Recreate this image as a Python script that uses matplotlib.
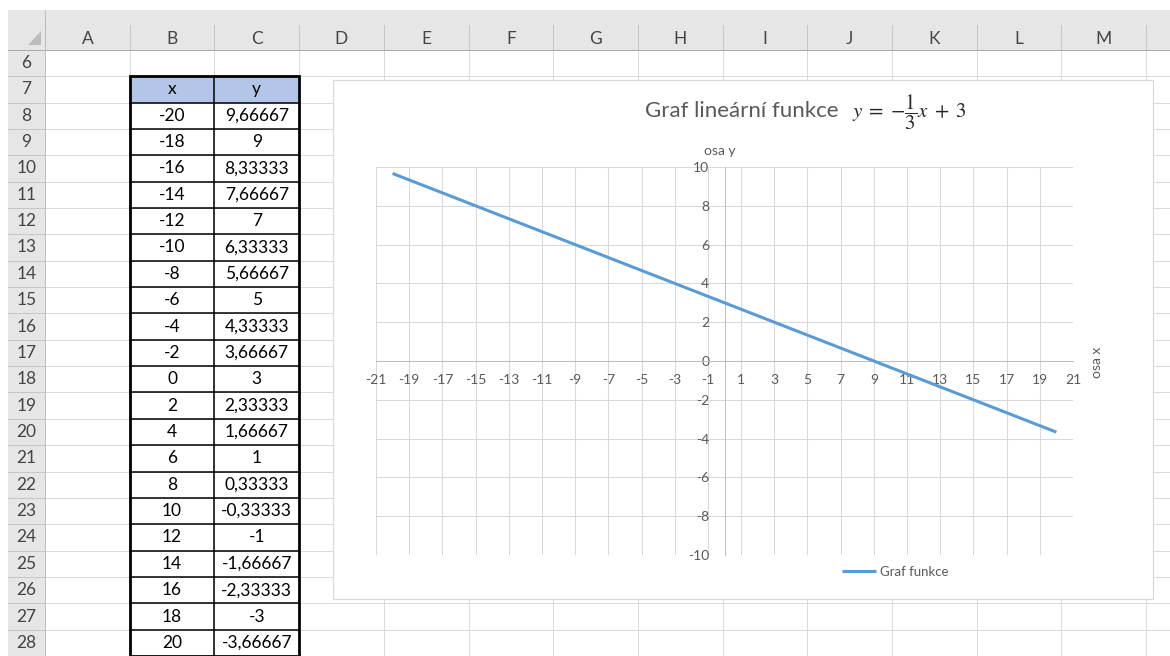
import matplotlib
matplotlib.use("Agg")
import matplotlib.pyplot as plt
from matplotlib.patches import Rectangle, Polygon

# ---- data -------------------------------------------------------------
x_values = [-20, -18, -16, -14, -12, -10, -8, -6, -4, -2, 0,
            2, 4, 6, 8, 10, 12, 14, 16, 18, 20]
y_values = [9.66667, 9, 8.33333, 7.66667, 7, 6.33333, 5.66667, 5,
            4.33333, 3.66667, 3, 2.33333, 1.66667, 1, 0.33333,
            -0.33333, -1, -1.66667, -2.33333, -3, -3.66667]
column_letters = list("ABCDEFGHIJKLM")
row_numbers = list(range(6, 29))
x_ticks = list(range(-21, 22, 2))
y_ticks = list(range(-10, 11, 2))
series_name = "Graf funkce"
title_text = "Graf lineární funkce"
title_math = r"$y\;=\;{-}\dfrac{1}{3}x\;+\;3$"
x_axis_title = "osa x"
y_axis_title = "osa y"
table_header = ["x", "y"]

# ---- styling ----------------------------------------------------------
plt.rcParams["font.family"] = ["Lato", "DejaVu Sans"]
plt.rcParams["axes.unicode_minus"] = False
W, H = 1170, 656
PX = 0.72                      # one pixel in points at dpi=100
COL0, COLW = 45.0, 84.7        # sheet column geometry (pixels)
ROW0, ROWH = 49.8, 26.36       # sheet row geometry (pixels)
HDR_TOP, HDR_LEFT = 10.0, 8.0
HDR_BG = "#E6E6E6"
HDR_TXT = "#444444"
SHEET_GRID = "#DADADA"
CHART_GRID = "#D9D9D9"
AXIS_COL = "#BFBFBF"
LABEL_COL = "#595959"
LINE_COL = "#5B9BD5"


def col_left(i):
    return COL0 + i * COLW


def row_top(r):
    return ROW0 + (r - row_numbers[0]) * ROWH


def fmt_cell(v):
    s = f"{v:.5f}".rstrip("0").rstrip(".")
    return s.replace(".", ",")


fig = plt.figure(figsize=(W / 100, H / 100), dpi=100)
fig.patch.set_facecolor("white")

# ---- spreadsheet canvas (pixel coordinates) ----------------------------
sh = fig.add_axes([0, 0, 1, 1], zorder=0)
sh.set_xlim(0, W)
sh.set_ylim(H, 0)
sh.axis("off")

# header strips
sh.add_patch(Rectangle((HDR_LEFT, HDR_TOP), W - HDR_LEFT, ROW0 - HDR_TOP,
                       facecolor=HDR_BG, edgecolor="none", zorder=1))
sh.add_patch(Rectangle((HDR_LEFT, HDR_TOP), COL0 - HDR_LEFT, H - HDR_TOP,
                       facecolor=HDR_BG, edgecolor="none", zorder=1))
sh.add_patch(Polygon([(41, 31), (41, 45), (28, 45)], closed=True,
                     facecolor="#BDBDBD", edgecolor="none", zorder=2))

n_cols = len(column_letters) + 1
# sheet grid
for i in range(n_cols + 1):
    x = col_left(i)
    sh.plot([x, x], [ROW0, H], color=SHEET_GRID, lw=PX, zorder=2)
    sh.plot([x, x], [25, ROW0], color="#C6C6C6", lw=PX, zorder=2)
for k in range(len(row_numbers) + 1):
    y = row_top(row_numbers[0] + k)
    sh.plot([COL0, W], [y, y], color=SHEET_GRID, lw=PX, zorder=2)
    sh.plot([HDR_LEFT, COL0], [y, y], color="#C6C6C6", lw=PX, zorder=2)
sh.plot([HDR_LEFT, W], [ROW0, ROW0], color="#ABABAB", lw=PX, zorder=3)
sh.plot([COL0, COL0], [HDR_TOP, H], color="#BDBDBD", lw=PX, zorder=3)

# header labels
for i, letter in enumerate(column_letters):
    sh.text(col_left(i) + COLW / 2, 38.5, letter, ha="center", va="center",
            fontsize=12.5, color=HDR_TXT, zorder=4)
for r in row_numbers:
    sh.text(26.5, row_top(r) + ROWH / 2, str(r), ha="center", va="center",
            fontsize=12.5, color=HDR_TXT, zorder=4)

# value table in columns B:C starting at row 7
t_row = 7
bx0, bx1, bx2 = col_left(1), col_left(2), col_left(3)
for j in range(2):
    sh.add_patch(Rectangle((col_left(1 + j), row_top(t_row)), COLW, ROWH,
                           facecolor="#B4C6E7", edgecolor="none", zorder=3))
    sh.text(col_left(1 + j) + COLW / 2, row_top(t_row) + ROWH / 2,
            table_header[j], ha="center", va="center", fontsize=12.5,
            color="black", zorder=5)
for k, (xv, yv) in enumerate(zip(x_values, y_values)):
    r = t_row + 1 + k
    cy = row_top(r) + ROWH / 2
    sh.text((bx0 + bx1) / 2, cy, fmt_cell(xv), ha="center", va="center",
            fontsize=12.5, color="black", zorder=5)
    sh.text((bx1 + bx2) / 2, cy, fmt_cell(yv), ha="center", va="center",
            fontsize=12.5, color="black", zorder=5)
t_top = row_top(t_row)
t_bot = row_top(t_row + 1 + len(x_values))
for k in range(1, len(x_values) + 1):
    y = row_top(t_row + k)
    sh.plot([bx0, bx2], [y, y], color="black", lw=1.1, zorder=6)
sh.plot([bx1, bx1], [t_top, t_bot], color="black", lw=1.1, zorder=6)
sh.add_patch(Rectangle((bx0, t_top), bx2 - bx0, t_bot - t_top,
                       facecolor="none", edgecolor="black", lw=2.0,
                       zorder=7, clip_on=False))

# chart area
sh.add_patch(Rectangle((333, 80), 1153 - 333, 599 - 80, facecolor="white",
                       edgecolor="#D9D9D9", lw=PX * 1.2, zorder=8))
sh.text(645, 117, title_text, ha="left", va="baseline", fontsize=16,
        color=LABEL_COL, zorder=9)
sh.text(852, 117, title_math, ha="left", va="baseline", fontsize=15,
        math_fontfamily="stix", color="#262626", zorder=9)
sh.text(720, 151, y_axis_title, ha="center", va="center", fontsize=10,
        color=LABEL_COL, zorder=9)
sh.text(1097, 362, x_axis_title, ha="center", va="center", fontsize=10,
        rotation=90, color=LABEL_COL, zorder=9)

# ---- plot area --------------------------------------------------------
left, right, top, bottom = 376, 1073, 167, 555
ax = fig.add_axes([left / W, 1 - bottom / H, (right - left) / W,
                   (bottom - top) / H], zorder=2)
ax.set_facecolor("none")
ax.set_xlim(x_ticks[0], x_ticks[-1])
ax.set_ylim(y_ticks[0], y_ticks[-1])
ax.set_xticks(x_ticks)
ax.set_yticks(y_ticks)
ax.grid(True, color=CHART_GRID, lw=0.75)
ax.set_axisbelow(True)
for side in ("top", "right"):
    ax.spines[side].set_visible(False)
ax.spines["bottom"].set_position(("data", 0))
ax.spines["left"].set_position(("data", 0))
for side in ("bottom", "left"):
    ax.spines[side].set_color(AXIS_COL)
    ax.spines[side].set_linewidth(0.75)
ax.tick_params(axis="x", length=0, pad=9, labelsize=10, labelcolor=LABEL_COL)
ax.tick_params(axis="y", length=0, pad=11, labelsize=10, labelcolor=LABEL_COL)

line, = ax.plot(x_values, y_values, color=LINE_COL, lw=2.2,
                solid_capstyle="butt", label=series_name, zorder=3)

ax.legend(handles=[line], loc="center",
          bbox_to_anchor=(895 / W, 1 - 572 / H),
          bbox_transform=fig.transFigure, frameon=False, fontsize=9.5,
          labelcolor=LABEL_COL, handlelength=2.6, handletextpad=0.3)

fig.savefig("out.png", dpi=100, facecolor="white")
